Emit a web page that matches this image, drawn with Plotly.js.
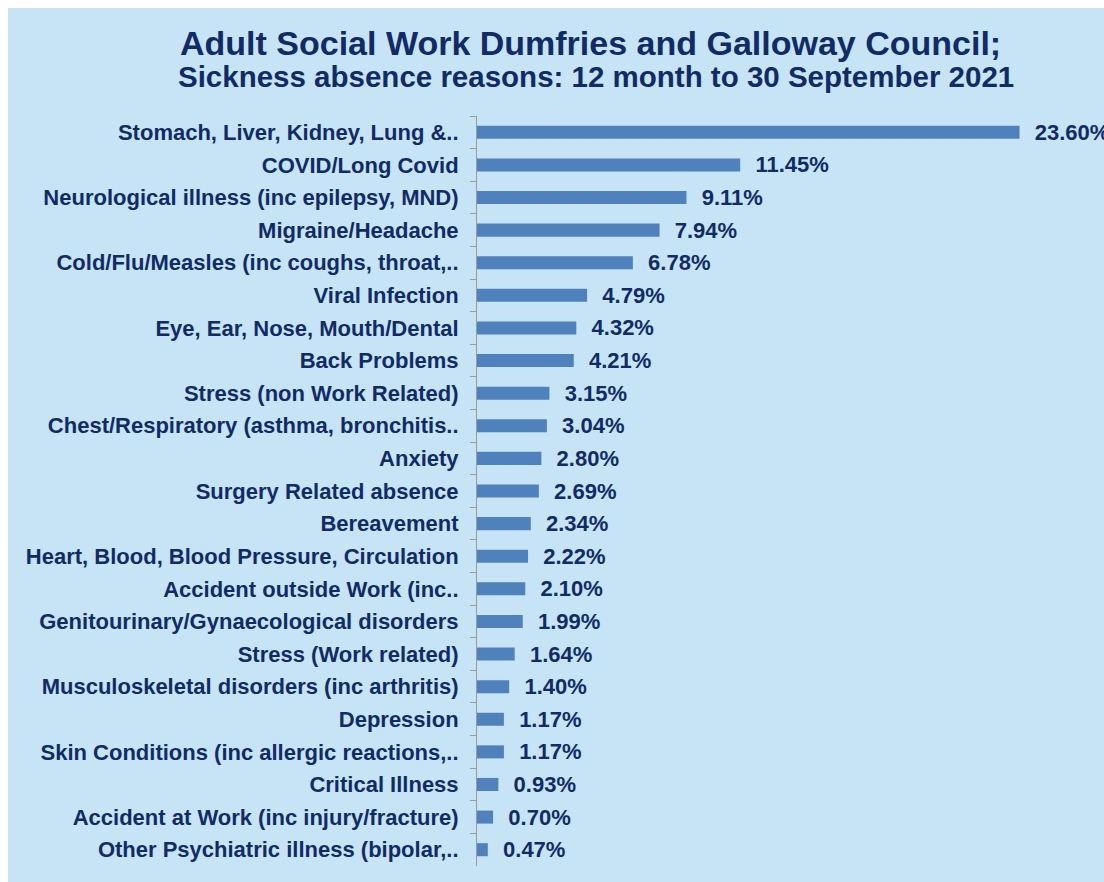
<!DOCTYPE html>
<html>
<head>
<meta charset="utf-8">
<script src="https://cdn.plot.ly/plotly-3.0.1.min.js"></script>
<style>
    body { margin: 0; background: #ffffff; }
    #chart { position: absolute; left: 8px; top: 8px; width: 1096px; height: 874px; }
</style>
</head>
<body>
<div id="chart"></div>
<script>
// Sickness absence reasons, top to bottom as in the chart
const reasons = [
    'Stomach, Liver, Kidney, Lung &..',
    'COVID/Long Covid',
    'Neurological illness (inc epilepsy, MND)',
    'Migraine/Headache',
    'Cold/Flu/Measles (inc coughs, throat,..',
    'Viral Infection',
    'Eye, Ear, Nose, Mouth/Dental',
    'Back Problems',
    'Stress (non Work Related)',
    'Chest/Respiratory (asthma, bronchitis..',
    'Anxiety',
    'Surgery Related absence',
    'Bereavement',
    'Heart, Blood, Blood Pressure, Circulation',
    'Accident outside Work (inc..',
    'Genitourinary/Gynaecological disorders',
    'Stress (Work related)',
    'Musculoskeletal disorders (inc arthritis)',
    'Depression',
    'Skin Conditions (inc allergic reactions,..',
    'Critical Illness',
    'Accident at Work (inc injury/fracture)',
    'Other Psychiatric illness (bipolar,..'
];

const sharePct = [23.60, 11.45, 9.11, 7.94, 6.78, 4.79, 4.32, 4.21, 3.15, 3.04, 2.80, 2.69,
    2.34, 2.22, 2.10, 1.99, 1.64, 1.40, 1.17, 1.17, 0.93, 0.70, 0.47];

const titleMain = 'Adult Social Work Dumfries and Galloway Council;';
const titleSub = 'Sickness absence reasons: 12 month to 30 September 2021';

const navy = '#112B66';
const fontFam = 'Liberation Sans, Arial, sans-serif';

const trace = {
    type: 'bar',
    orientation: 'h',
    x: sharePct,
    y: reasons,
    marker: { color: '#4F81BD' },
    text: sharePct.map(v => '\u00a0\u00a0' + v.toFixed(2) + '%'),
    textposition: 'outside',
    constraintext: 'none',
    cliponaxis: false,
    textfont: { family: fontFam, size: 22, color: navy, weight: 'bold' },
    hoverinfo: 'x+y'
};

const layout = {
    width: 1096,
    height: 874,
    paper_bgcolor: '#C6E4F6',
    plot_bgcolor: '#C6E4F6',
    margin: { l: 469, r: 4, t: 108, b: 16 },
    bargap: 0.6,
    showlegend: false,
    xaxis: {
        visible: false,
        range: [0, 27.1]
    },
    yaxis: {
        autorange: 'reversed',
        showline: true,
        linecolor: '#9A9A9A',
        linewidth: 1,
        ticks: 'outside',
        tickson: 'boundaries',
        ticklen: 6,
        tickcolor: '#9A9A9A',
        ticklabelstandoff: 13,
        showgrid: false,
        tickfont: { family: fontFam, size: 22, color: navy, weight: 'bold' }
    },
    annotations: [
        {
            text: titleMain, xref: 'paper', yref: 'paper', x: 0.1814, y: 1.0973,
            xanchor: 'center', yanchor: 'middle', showarrow: false,
            font: { family: fontFam, size: 34, color: navy, weight: 'bold' }
        },
        {
            text: titleSub, xref: 'paper', yref: 'paper', x: 0.1918, y: 1.052,
            xanchor: 'center', yanchor: 'middle', showarrow: false,
            font: { family: fontFam, size: 29.5, color: navy, weight: 'bold' }
        }
    ]
};

Plotly.newPlot('chart', [trace], layout, { displayModeBar: false });
</script>
</body>
</html>
